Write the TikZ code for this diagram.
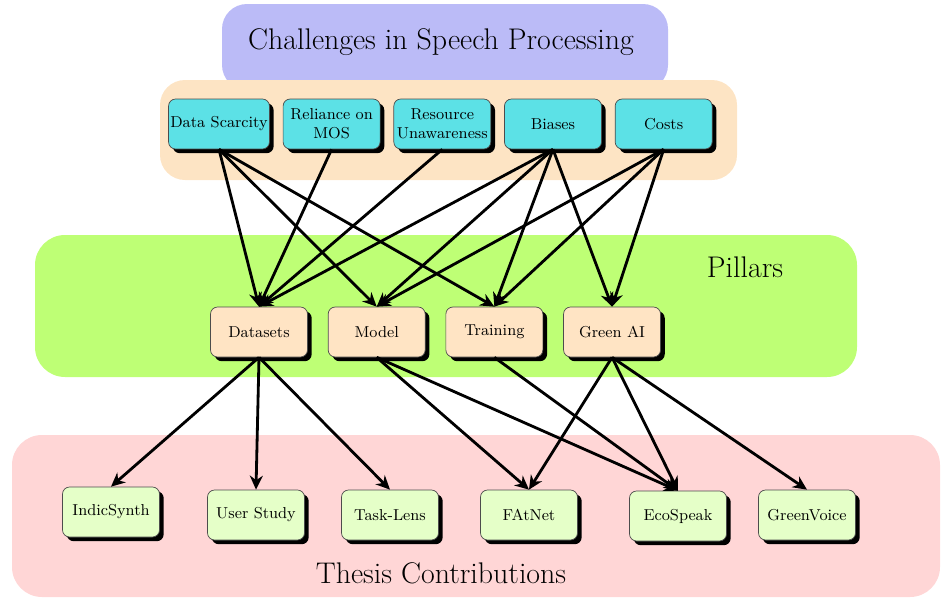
\documentclass[tikz,border=0pt]{standalone}
\usepackage{tikz}
\usetikzlibrary{positioning,arrows.meta,shadows}

\definecolor{titleblue}{RGB}{187,187,247}
\definecolor{bandpeach}{RGB}{253,228,196}
\definecolor{bandgreen}{RGB}{190,255,117}
\definecolor{bandpink}{RGB}{255,214,214}
\definecolor{chalcyan}{RGB}{92,225,230}
\definecolor{pillarfill}{RGB}{255,228,196}
\definecolor{contribfill}{RGB}{229,255,200}

\begin{document}
\begin{tikzpicture}[
  x=0.02cm, y=-0.02cm,
  node distance=4mm and 2.6mm,
  box/.style={draw=black!70, thin, rounded corners=4pt, align=center, inner sep=1pt,
    minimum width=1.94cm, minimum height=1cm, font=\small,
    drop shadow={shadow xshift=2.4pt, shadow yshift=-2.4pt, opacity=1, fill=black}},
  chal/.style={box, fill=chalcyan},
  pillar/.style={box, fill=pillarfill},
  contrib/.style={box, fill=contribfill},
  bandlab/.style={font=\fontsize{17}{20}\selectfont},
  arr/.style={-{Stealth[length=2.8mm, width=2.6mm]}, line width=1.6pt}
]
\useasboundingbox (0,0) rectangle (944,599);

% background bands
\fill[bandpink, rounded corners=0.6cm] (12,435) rectangle (940,597);
\fill[bandgreen, rounded corners=0.6cm] (35,235) rectangle (857,377);
\fill[titleblue, rounded corners=0.5cm] (222,4) rectangle (668,90);
\fill[bandpeach, rounded corners=0.5cm] (160,80) rectangle (737,180);

\node[bandlab] (title) at (441,42) {Challenges in Speech Processing};
\node[bandlab] (pillars) at (745,267) {Pillars};
\node[bandlab] (thesis) at (441,573) {Thesis Contributions};

% challenges
\node[chal] (scarcity) at (219,124) {Data Scarcity};
\node[chal, right=of scarcity] (mos) {Reliance on\\ MOS};
\node[chal, right=of mos] (resource) {Resource\\ Unawareness};
\node[chal, right=of resource] (biases) {Biases};
\node[chal, right=of biases] (costs) {Costs};

% pillars
\node[pillar] (datasets) at (259,332) {Datasets};
\node[pillar, right=4mm of datasets] (model) {Model};
\node[pillar, right=4mm of model] (training) {Training};
\node[pillar, right=4mm of training] (greenai) {Green AI};

% contributions
\node[contrib] (indic) at (111,512) {IndicSynth};
\node[contrib] (userstudy) at (256,515) {User Study};
\node[contrib] (tasklens) at (390,515) {Task-Lens};
\node[contrib] (fatnet) at (529,515) {FAtNet};
\node[contrib] (ecospeak) at (678,516) {EcoSpeak};
\node[contrib] (greenvoice) at (807,515) {GreenVoice};

\draw[arr] (scarcity.south) -- (datasets.north);
\draw[arr] (scarcity.south) -- (model.north);
\draw[arr] (scarcity.south) -- (training.north);
\draw[arr] (mos.south) -- (datasets.north);
\draw[arr] (resource.south) -- (datasets.north);
\draw[arr] (biases.south) -- (datasets.north);
\draw[arr] (biases.south) -- (model.north);
\draw[arr] (biases.south) -- (training.north);
\draw[arr] (biases.south) -- (greenai.north);
\draw[arr] (costs.south) -- (model.north);
\draw[arr] (costs.south) -- (training.north);
\draw[arr] (costs.south) -- (greenai.north);

\draw[arr] (datasets.south) -- (indic.north);
\draw[arr] (datasets.south) -- (userstudy.north);
\draw[arr] (datasets.south) -- (tasklens.north);
\draw[arr] (model.south) -- (fatnet.north);
\draw[arr] (model.south) -- (ecospeak.north);
\draw[arr] (training.south) -- (ecospeak.north);
\draw[arr] (greenai.south) -- (fatnet.north);
\draw[arr] (greenai.south) -- (ecospeak.north);
\draw[arr] (greenai.south) -- (greenvoice.north);
\end{tikzpicture}
\end{document}
